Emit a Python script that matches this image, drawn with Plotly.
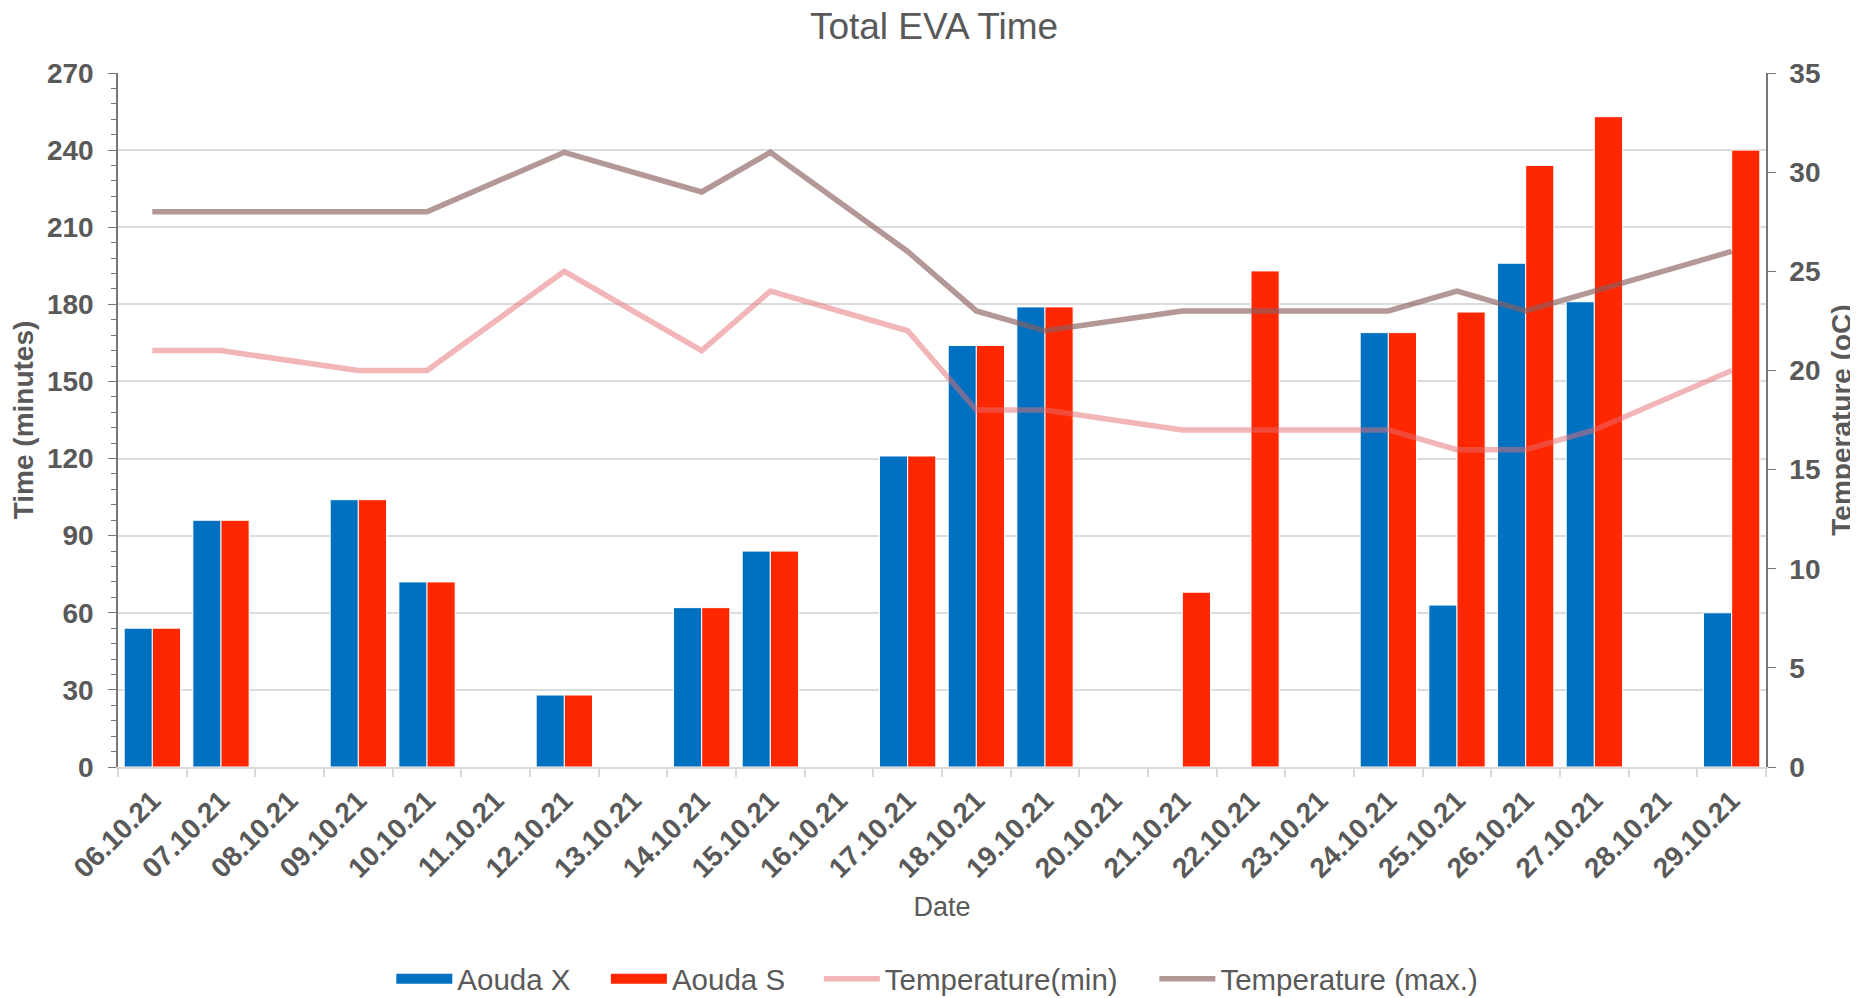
import plotly.graph_objects as go

dates = ["06.10.21", "07.10.21", "08.10.21", "09.10.21", "10.10.21", "11.10.21",
         "12.10.21", "13.10.21", "14.10.21", "15.10.21", "16.10.21", "17.10.21",
         "18.10.21", "19.10.21", "20.10.21", "21.10.21", "22.10.21", "23.10.21",
         "24.10.21", "25.10.21", "26.10.21", "27.10.21", "28.10.21", "29.10.21"]

aouda_x = [54, 96, None, 104, 72, None, 28, None, 62, 84, None, 121,
           164, 179, None, None, None, None, 169, 63, 196, 181, None, 60]
aouda_s = [54, 96, None, 104, 72, None, 28, None, 62, 84, None, 121,
           164, 179, None, 68, 193, None, 169, 177, 234, 253, None, 240]

temp_min = [21, 21, None, 20, 20, None, 25, None, 21, 24, None, 22,
            18, 18, None, 17, 17, None, 17, 16, 16, 17, None, 20]
temp_max = [28, 28, None, 28, 28, None, 31, None, 29, 31, None, 26,
            23, 22, None, 23, 23, None, 23, 24, 23, 24, None, 26]

FONT = "Liberation Sans, Arial, sans-serif"
GREY = "#595959"
BLUE = "#0070C0"
RED = "#FF2700"

fig = go.Figure()

fig.add_trace(go.Bar(x=dates, y=aouda_x, name="Aouda X", showlegend=False,
                     marker=dict(color=BLUE, line=dict(color="white", width=1))))
fig.add_trace(go.Bar(x=dates, y=aouda_s, name="Aouda S", showlegend=False,
                     marker=dict(color=RED, line=dict(color="white", width=1))))

# legend-only entries so the bar keys show as wide blocks like in Excel
fig.add_trace(go.Scatter(x=[None], y=[None], name="Aouda X", mode="lines", legend="legend",
                         line=dict(color=BLUE, width=19)))
fig.add_trace(go.Scatter(x=[None], y=[None], name="Aouda S", mode="lines", legend="legend2",
                         line=dict(color=RED, width=19)))

fig.add_trace(go.Scatter(x=dates, y=temp_min, name="Temperature(min)", mode="lines", yaxis="y2",
                         legend="legend3", connectgaps=True,
                         line=dict(color="rgba(230,110,115,0.5)", width=5.5)))
fig.add_trace(go.Scatter(x=dates, y=temp_max, name="Temperature (max.)", mode="lines", yaxis="y2",
                         legend="legend4", connectgaps=True,
                         line=dict(color="rgba(140,95,95,0.65)", width=5.5)))


def key(x):
    return dict(orientation="h", x=x, xanchor="left", xref="container",
                y=0.027, yanchor="middle", yref="container",
                font=dict(size=29.5, color=GREY), itemwidth=56, bgcolor="rgba(0,0,0,0)")


# page body adds an 8px offset, so margins are shifted accordingly
fig.update_layout(
    width=1858, height=998,
    margin=dict(l=110, r=100, t=65, b=239),
    paper_bgcolor="white", plot_bgcolor="white",
    font=dict(family=FONT, color=GREY),
    title=dict(text="Total EVA Time", x=0.4984, xref="container", xanchor="center",
               y=0.995, yref="container", yanchor="top", pad=dict(t=0, b=0),
               font=dict(size=37, color=GREY)),
    barmode="group", bargap=0.18, bargroupgap=0,
    showlegend=True,
    legend=key(0.2063), legend2=key(0.3218), legend3=key(0.4364), legend4=key(0.6170),
    xaxis=dict(
        type="category", tickangle=-45, tickson="boundaries",
        ticks="outside", ticklen=8, tickcolor="#D9D9D9", tickwidth=2,
        showline=True, linecolor="#D9D9D9", linewidth=2,
        ticklabelstandoff=4,
        tickfont=dict(size=28, weight="bold", color=GREY),
        title=dict(text="Date", standoff=14, font=dict(size=27, color=GREY)),
        automargin=False,
    ),
    yaxis=dict(
        range=[0, 270], dtick=30, tick0=0,
        showgrid=True, gridcolor="#DCDCDC", gridwidth=2, zeroline=False,
        showline=True, linecolor="#767676", linewidth=1.5,
        ticks="outside", ticklen=8, tickcolor="#767676",
        minor=dict(dtick=6, ticks="outside", ticklen=5, tickcolor="#767676", showgrid=False),
        ticklabelstandoff=9,
        tickfont=dict(size=28, weight="bold", color=GREY),
        title=dict(text="Time (minutes)", standoff=11, font=dict(size=28, weight="bold", color=GREY)),
        automargin=False,
    ),
    yaxis2=dict(
        overlaying="y", side="right", range=[0, 35], dtick=5, tick0=0,
        showgrid=False, zeroline=False,
        showline=True, linecolor="#767676", linewidth=1.5,
        ticks="outside", ticklen=8, tickcolor="#767676",
        ticklabelstandoff=8,
        tickfont=dict(size=28, weight="bold", color=GREY),
        title=dict(text="Temperature (oC)", standoff=12, font=dict(size=28, weight="bold", color=GREY)),
        automargin=False,
    ),
)

fig.write_html("out.html")
